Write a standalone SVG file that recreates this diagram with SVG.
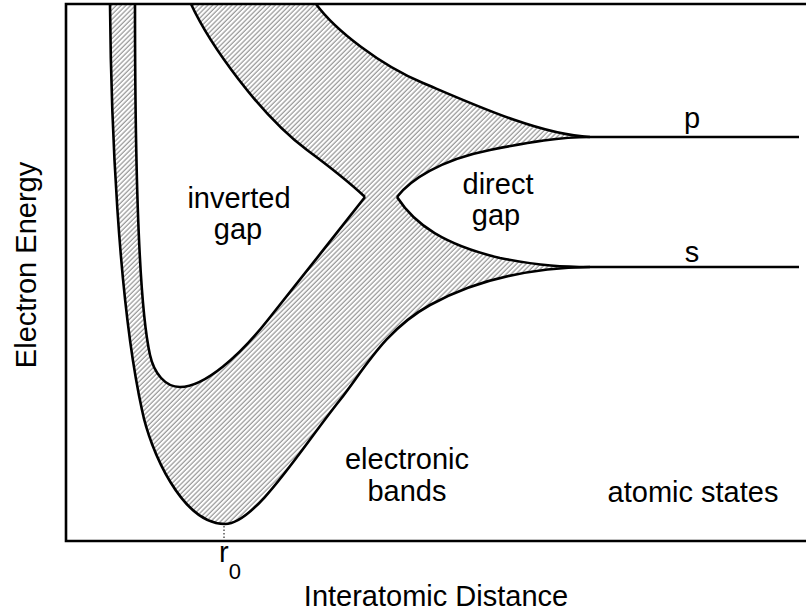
<svg xmlns="http://www.w3.org/2000/svg" width="806" height="614" viewBox="0 0 806 614">
  <defs>
    <pattern id="hatch" width="3.4" height="6" patternUnits="userSpaceOnUse" patternTransform="rotate(45)">
      <line x1="1" y1="0" x2="1" y2="6" stroke="#707070" stroke-width="0.9"/>
    </pattern>
  </defs>
  <style>
    .curve { fill: none; stroke: #000; stroke-width: 2.6; stroke-linejoin: round; }
    .axis { fill: none; stroke: #000; stroke-width: 2.6; }
    .band { fill: url(#hatch); stroke: none; }
    .lbl { font-family: "Liberation Sans", Arial, sans-serif; font-size: 29px; fill: #000; text-anchor: middle; }
  </style>
  <rect x="0" y="0" width="806" height="614" fill="#fff"/>

  <g id="bands">
    <path class="band" d="M110,4 C111,120 118,300 142,410 C150,450 182,524 225,524 C255,524 300,450 340,400 C365,368 385,330 430,305 C470,283 520,268 590,267 C565,267 540,266 500,258 C445,245 415,225 397,197 L365,197 C335,235 295,286 267,321 C240,355 205,387 180,387 C165,387 154,373 150,355 C140,310 135,180 135,4 Z"/>
    <path class="band" d="M191,4 C210,45 260,115 307,150 C330,167 350,183 365,197 L397,197 C410,180 440,160 490,150 C530,142 560,137 590,137 C540,135 470,103 423,83 C380,65 335,30 316,4 Z"/>
  </g>

  <g id="curves">
    <path class="curve" d="M110,4 C111,120 118,300 142,410 C150,450 182,524 225,524 C255,524 300,450 340,400 C365,368 385,330 430,305 C470,283 520,268 590,267 L799,267"/>
    <path class="curve" d="M135,4 C135,180 140,310 150,355 C154,373 165,387 180,387 C205,387 240,355 267,321 C295,286 335,235 365,197"/>
    <path class="curve" d="M191,4 C210,45 260,115 307,150 C330,167 350,183 365,197"/>
    <path class="curve" d="M316,4 C335,30 380,65 423,83 C470,103 540,135 590,137 L799,137"/>
    <path class="curve" d="M397,197 C410,180 440,160 490,150 C530,142 560,137 590,137"/>
    <path class="curve" d="M397,197 C415,225 445,245 500,258 C540,266 565,267 590,267"/>
  </g>

  <g id="axes">
    <path class="axis" d="M806,4 H66 V541 H806"/>
    <line x1="224" y1="526" x2="224" y2="540" stroke="#000" stroke-width="1" stroke-dasharray="1.5,2"/>
  </g>

  <g id="labels">
    <text class="lbl" x="692" y="128">p</text>
    <text class="lbl" x="692" y="262">s</text>
    <text class="lbl" x="239" y="208">inverted</text>
    <text class="lbl" x="238" y="239">gap</text>
    <text class="lbl" x="498" y="194">direct</text>
    <text class="lbl" x="496" y="225">gap</text>
    <text class="lbl" x="407" y="469">electronic</text>
    <text class="lbl" x="407" y="501">bands</text>
    <text class="lbl" x="693" y="502">atomic states</text>
    <text class="lbl" x="436" y="606">Interatomic Distance</text>
    <text class="lbl" x="36" y="265" transform="rotate(-90 36 265)">Electron Energy</text>
    <text class="lbl" x="219" y="562" style="text-anchor:start">r<tspan font-size="22" dy="17">0</tspan></text>
  </g>
</svg>
